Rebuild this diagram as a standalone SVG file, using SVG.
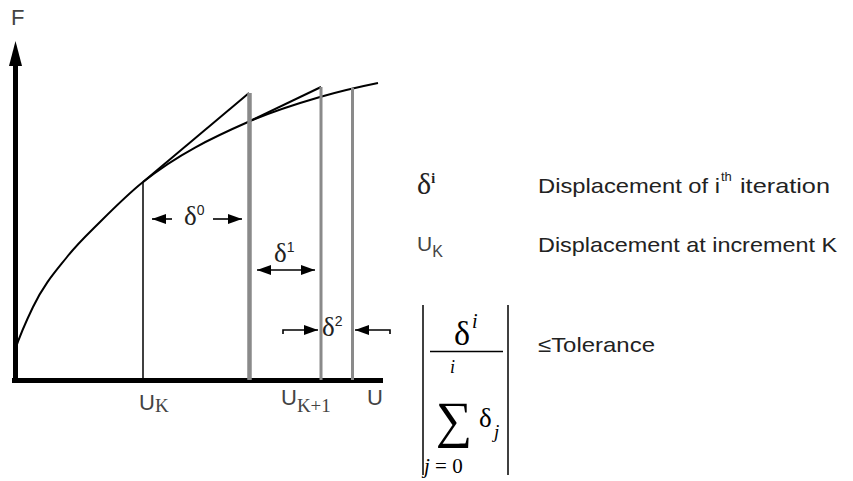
<svg xmlns="http://www.w3.org/2000/svg" width="853" height="481" viewBox="0 0 853 481">
<defs>
<marker id="ah" viewBox="0 0 14 10" refX="14" refY="5" markerWidth="14" markerHeight="10" markerUnits="userSpaceOnUse" orient="auto-start-reverse">
<path d="M0,0 L14,5 L0,10 z" fill="#000"/>
</marker>
</defs>
<style>
.sans{font-family:"Liberation Sans",Arial,sans-serif;}
.serif{font-family:"Liberation Serif","Times New Roman",serif;}
.lbl{fill:#444;}
.dark{fill:#222;}
.gray{stroke:#8a8a8a;fill:none;}
.blk{stroke:#000;fill:none;}
.arr{stroke:#000;stroke-width:1.6;fill:none;}
</style>
<rect width="853" height="481" fill="#fff"/>

<g id="axes">
<line x1="15.5" y1="60" x2="15.5" y2="383" stroke="#000" stroke-width="5"/>
<polygon points="15.5,41 22,66 9,66" fill="#000"/>
<line x1="12" y1="380.5" x2="383" y2="380.5" stroke="#000" stroke-width="5"/>
<text class="sans lbl" x="11" y="25" font-size="22">F</text>
</g>

<g id="curve">
<path class="blk" stroke-width="2" d="M15,350 C21,332 27,319.4 33,307 C44.3,283.6 55.7,271.3 67,257 C78,243.1 89,233 100,222 C114.3,207.7 128.7,193.5 143,182 C178,154 213,137.4 248,122 C272,111.4 296,104 320,97 C339.3,91.4 358.7,86.9 378,83"/>
</g>

<g id="iterations">
<line class="blk" x1="143" y1="182" x2="249" y2="93" stroke-width="2"/>
<line class="blk" x1="248" y1="122" x2="321" y2="87" stroke-width="2"/>
<line class="blk" x1="143" y1="182" x2="143" y2="380" stroke-width="1.5"/>
<line class="gray" x1="249.5" y1="93" x2="249.5" y2="380" stroke-width="4.5"/>
<line class="gray" x1="321" y1="87" x2="321" y2="380" stroke-width="3"/>
<line class="gray" x1="352.5" y1="88" x2="352.5" y2="380" stroke-width="3"/>
</g>

<g id="connectors">
<line class="arr" x1="172" y1="219" x2="152" y2="219" marker-end="url(#ah)"/>
<line class="arr" x1="213" y1="219" x2="242" y2="219" marker-end="url(#ah)"/>
<line class="arr" x1="257" y1="270" x2="315" y2="270" marker-start="url(#ah)" marker-end="url(#ah)"/>
<path class="arr" d="M283,334 V330 H318" marker-end="url(#ah)"/>
<path class="arr" d="M390,334 V330 H355" marker-end="url(#ah)"/>
</g>

<g id="delta-labels">
<text class="serif dark" x="184" y="225" font-size="27">δ<tspan class="sans" font-size="14" dy="-10">0</tspan></text>
<text class="serif dark" x="274" y="262" font-size="27">δ<tspan class="sans" font-size="14" dy="-10">1</tspan></text>
<text class="serif dark" x="322" y="336" font-size="27">δ<tspan class="sans" font-size="14" dy="-10">2</tspan></text>
</g>

<g id="axis-labels">
<text class="sans lbl" x="139" y="410" font-size="22">U<tspan class="serif" font-size="19" dy="2">K</tspan></text>
<text class="sans lbl" x="281" y="405" font-size="22">U<tspan class="serif" font-size="19" dy="7">K+1</tspan></text>
<text class="sans lbl" x="367" y="405" font-size="22">U</text>
</g>

<g id="legend-delta">
<text class="serif dark" x="417" y="194" font-size="30">δ<tspan font-weight="bold" font-size="14" dy="-11">i</tspan></text>
<text class="sans dark" x="538" y="193" font-size="21" textLength="182" lengthAdjust="spacingAndGlyphs">Displacement of i</text>
<text class="sans dark" x="721" y="181" font-size="13">th</text>
<text class="sans dark" x="740" y="193" font-size="21" textLength="90" lengthAdjust="spacingAndGlyphs">iteration</text>
</g>

<g id="legend-u">
<text class="sans lbl" x="417" y="251" font-size="21">U<tspan font-size="16" dy="6">K</tspan></text>
<text class="sans dark" x="538" y="252" font-size="21" textLength="299" lengthAdjust="spacingAndGlyphs">Displacement at increment K</text>
</g>

<g id="formula">
<line x1="423" y1="305" x2="423" y2="475" stroke="#000" stroke-width="1.5"/>
<line x1="508" y1="305" x2="508" y2="475" stroke="#000" stroke-width="1.5"/>
<line x1="430" y1="351.5" x2="503" y2="351.5" stroke="#000" stroke-width="1.5"/>
<text class="serif" x="454" y="345" font-size="34">δ</text>
<text class="serif" x="472" y="328" font-size="20" font-style="italic">i</text>
<text class="serif" x="450" y="373" font-size="18" font-style="italic">i</text>
<text class="serif" x="436" y="437" font-size="51">∑</text>
<text class="serif" x="479" y="427" font-size="27">δ</text>
<text class="serif" x="494" y="438" font-size="19" font-style="italic">j</text>
<text class="serif" x="424" y="473" font-size="21"><tspan font-style="italic">j</tspan> = 0</text>
<text class="sans dark" x="538" y="352" font-size="21" textLength="117" lengthAdjust="spacingAndGlyphs">≤Tolerance</text>
</g>
</svg>
